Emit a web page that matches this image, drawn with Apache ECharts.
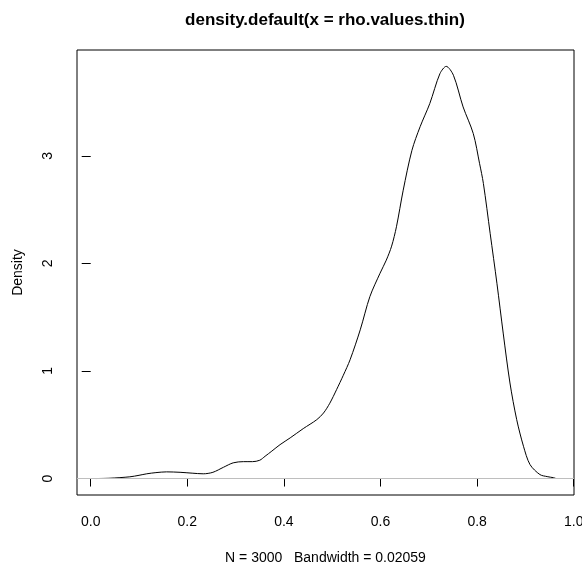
<!DOCTYPE html>
<html>
<head>
<meta charset="utf-8">
<script src="https://cdn.jsdelivr.net/npm/echarts@6/dist/echarts.min.js"></script>
<style>
html,body{margin:0;padding:0;background:#fff;}
#chart{width:582px;height:564px;}
</style>
</head>
<body>
<div id="chart"></div>
<script>
const xValues = [0.010,0.040,0.081,0.100,0.116,0.135,0.157,0.185,0.210,0.233,0.253,0.275,0.295,0.316,0.335,0.350,0.361,0.375,0.392,0.413,0.440,0.468,0.482,0.495,0.509,0.523,0.537,0.558,0.578,0.599,0.612,0.623,0.633,0.647,0.665,0.682,0.702,0.723,0.736,0.751,0.771,0.792,0.805,0.813,0.827,0.841,0.854,0.868,0.882,0.896,0.9095,0.930,0.945,0.958,0.9625];
const densityValues = [0.000,0.003,0.016,0.030,0.044,0.055,0.062,0.058,0.050,0.044,0.058,0.105,0.146,0.157,0.157,0.170,0.207,0.255,0.315,0.378,0.464,0.547,0.609,0.700,0.826,0.960,1.104,1.382,1.691,1.908,2.030,2.160,2.340,2.680,3.050,3.270,3.485,3.763,3.831,3.748,3.454,3.207,2.930,2.743,2.279,1.815,1.352,0.888,0.547,0.300,0.130,0.037,0.018,0.008,0.002];
const xTicks = [0.0,0.2,0.4,0.6,0.8,1.0];
const xTickLabels = ['0.0','0.2','0.4','0.6','0.8','1.0'];
const yTicks = [0,1,2,3];
const yTickLabels = ['0','1','2','3'];
const titleText = 'density.default(x = rho.values.thin)';
const xLabel = 'N = 3000   Bandwidth = 0.02059';
const yLabel = 'Density';

const points = xValues.map((x, i) => [x, densityValues[i]]);
const font = 'Liberation Sans, Arial, Helvetica, sans-serif';

const chart = echarts.init(document.getElementById('chart'), null, {renderer: 'canvas'});
chart.setOption({
  animation: false,
  backgroundColor: '#ffffff',
  title: {
    text: titleText,
    left: 325,
    textAlign: 'center',
    top: 12,
    padding: 0,
    textStyle: {fontFamily: font, fontSize: 17, fontWeight: 'bold', color: '#000'}
  },
  grid: {left: 77, right: 8, top: 50, bottom: 69, containLabel: false, outerBoundsMode: 'none', show: true, borderColor: '#000', borderWidth: 1, backgroundColor: 'transparent'},
  xAxis: {
    type: 'value',
    min: -0.0284,
    max: 1.0006,
    name: xLabel,
    nameLocation: 'middle',
    nameGap: 56,
    nameTextStyle: {fontFamily: font, fontSize: 14, color: '#000'},
    axisLine: {show: false},
    splitLine: {show: false},
    axisTick: {show: true, inside: false, length: 8, lineStyle: {color: '#000', width: 1}, customValues: xTicks},
    axisLabel: {
      show: true, margin: 20, fontFamily: font, fontSize: 14, color: '#000',
      hideOverlap: false,
      customValues: xTicks,
      formatter: function (v) { const i = xTicks.findIndex(t => Math.abs(t - v) < 1e-9); return i >= 0 ? xTickLabels[i] : ''; }
    }
  },
  yAxis: {
    type: 'value',
    min: -0.153,
    max: 3.983,
    name: yLabel,
    nameLocation: 'middle',
    nameRotate: 90,
    nameGap: 52,
    nameTextStyle: {fontFamily: font, fontSize: 14, color: '#000'},
    axisLine: {show: false},
    splitLine: {show: false},
    axisTick: {show: true, inside: false, length: 9, lineStyle: {color: '#000', width: 1}, customValues: yTicks},
    axisLabel: {
      show: true, rotate: 90, margin: 22, fontFamily: font, fontSize: 14, color: '#000',
      customValues: yTicks,
      formatter: function (v) { const i = yTicks.findIndex(t => Math.abs(t - v) < 1e-9); return i >= 0 ? yTickLabels[i] : ''; }
    }
  },
  series: [{
    type: 'line',
    data: points,
    smooth: 0.3,
    showSymbol: false,
    symbol: 'none',
    lineStyle: {color: '#000', width: 1},
    markLine: {
      silent: true,
      symbol: ['none', 'none'],
      label: {show: false},
      lineStyle: {color: '#bebebe', width: 1, type: 'solid'},
      data: [{yAxis: 0}]
    }
  }]
});
</script>
</body>
</html>
